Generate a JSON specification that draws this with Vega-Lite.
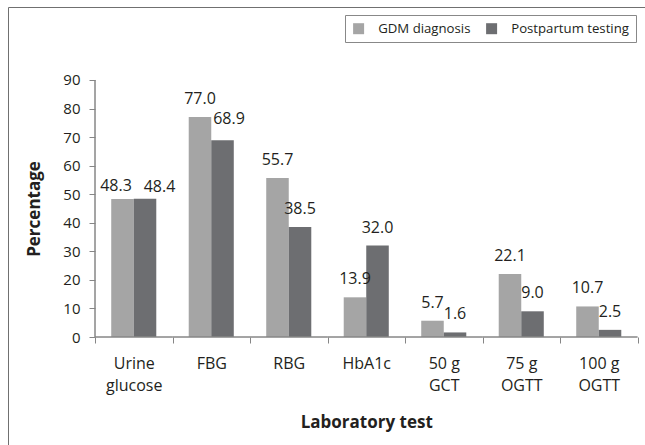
{
  "$schema": "https://vega.github.io/schema/vega-lite/v6.json",
  "width": 645,
  "height": 445,
  "autosize": {"type": "none"},
  "padding": {"left": 8, "top": 7, "right": 0, "bottom": 0},
  "background": "white",
  "config": {
    "font": "Open Sans",
    "view": {"stroke": "#707070", "strokeWidth": 1}
  },
  "data": {
    "values": [
      {"test": "Urine glucose", "series": "GDM diagnosis", "value": 48.3},
      {"test": "Urine glucose", "series": "Postpartum testing", "value": 48.4},
      {"test": "FBG", "series": "GDM diagnosis", "value": 77.0},
      {"test": "FBG", "series": "Postpartum testing", "value": 68.9},
      {"test": "RBG", "series": "GDM diagnosis", "value": 55.7},
      {"test": "RBG", "series": "Postpartum testing", "value": 38.5},
      {"test": "HbA1c", "series": "GDM diagnosis", "value": 13.9},
      {"test": "HbA1c", "series": "Postpartum testing", "value": 32.0},
      {"test": "50 g GCT", "series": "GDM diagnosis", "value": 5.7},
      {"test": "50 g GCT", "series": "Postpartum testing", "value": 1.6},
      {"test": "75 g OGTT", "series": "GDM diagnosis", "value": 22.1},
      {"test": "75 g OGTT", "series": "Postpartum testing", "value": 9.0},
      {"test": "100 g OGTT", "series": "GDM diagnosis", "value": 10.7},
      {"test": "100 g OGTT", "series": "Postpartum testing", "value": 2.5}
    ]
  },
  "layer": [
    {
      "mark": {"type": "bar"},
      "encoding": {
        "x": {
          "field": "test", "type": "nominal", "sort": null,
          "scale": {"paddingInner": 0, "paddingOuter": 0.6613, "align": 0.8488},
          "axis": {
            "title": "Laboratory test",
            "tickBand": "extent",
            "offset": -115,
            "domain": false,
            "grid": false,
            "tickSize": 6,
            "tickColor": "#868686",
            "labelAngle": 0,
            "labelFontSize": 16,
            "labelColor": "#231f20",
            "labelPadding": 12,
            "labelLineHeight": 22,
            "labelExpr": "indexof(datum.label, ' g ') >= 0 ? split(replace(datum.label, ' g ', ' g|'), '|') : split(datum.label, ' ')",
            "titleFontSize": 17,
            "titleFontWeight": "bold",
            "titleColor": "#231f20",
            "titleX": 358.25,
            "titleY": 90.5,
            "titleBaseline": "alphabetic"
          }
        },
        "xOffset": {
          "field": "series", "type": "nominal",
          "sort": ["GDM diagnosis", "Postpartum testing"],
          "scale": {"paddingInner": 0, "paddingOuter": 0.72}
        },
        "y": {
          "field": "value", "type": "quantitative",
          "scale": {"domain": [-40.27, 115.56], "nice": false, "zero": false},
          "axis": {
            "title": "Percentage",
            "values": [0, 10, 20, 30, 40, 50, 60, 70, 80, 90],
            "offset": -87,
            "domain": false,
            "grid": false,
            "tickSize": 6,
            "tickColor": "#868686",
            "labelFontSize": 15,
            "labelColor": "#231f20",
            "labelPadding": 9,
            "titleFontSize": 17,
            "titleFontWeight": "bold",
            "titleColor": "#231f20",
            "titleX": -56,
            "titleY": 201.5,
            "titleBaseline": "alphabetic",
            "titleAngle": -90
          }
        },
        "y2": {"datum": 0},
        "color": {
          "field": "series", "type": "nominal",
          "scale": {"domain": ["GDM diagnosis", "Postpartum testing"], "range": ["#a5a5a5", "#6d6e71"]},
          "legend": {
            "title": null,
            "orient": "none",
            "legendX": 337,
            "legendY": 8,
            "direction": "horizontal",
            "columns": 2,
            "symbolType": "square",
            "symbolSize": 121,
            "symbolStrokeWidth": 0,
            "labelFontSize": 13.2,
            "labelColor": "#231f20",
            "labelOffset": 13,
            "columnPadding": 14,
            "padding": 7,
            "strokeColor": "#888888",
            "fillColor": "white"
          }
        }
      }
    },
    {
      "mark": {"type": "rule", "color": "#868686", "strokeWidth": 1},
      "encoding": {
        "x": {"field": "test", "type": "nominal", "sort": null, "bandPosition": 0},
        "x2": {"field": "test", "bandPosition": 1},
        "y": {"datum": 0}
      }
    },
    {
      "transform": [{"filter": "datum.test == 'Urine glucose'"}],
      "mark": {"type": "rule", "color": "#868686", "strokeWidth": 1},
      "encoding": {
        "x": {"field": "test", "type": "nominal", "sort": null, "bandPosition": 0},
        "y": {"datum": 0},
        "y2": {"datum": 90}
      }
    },
    {
      "transform": [{"filter": "!(datum.test == 'Urine glucose' || (datum.test == 'FBG' && datum.series == 'Postpartum testing'))"}],
      "mark": {"type": "text", "fontSize": 16, "color": "#231f20", "baseline": "alphabetic", "dy": -13},
      "encoding": {
        "x": {"field": "test", "type": "nominal", "sort": null},
        "xOffset": {"field": "series", "type": "nominal", "sort": ["GDM diagnosis", "Postpartum testing"]},
        "y": {"field": "value", "type": "quantitative"},
        "text": {"field": "value", "type": "quantitative", "format": ".1f"}
      }
    },
    {
      "transform": [{"filter": "datum.test == 'Urine glucose' && datum.series == 'GDM diagnosis'"}],
      "mark": {"type": "text", "fontSize": 16, "color": "#231f20", "baseline": "alphabetic", "dy": -8, "dx": -6.5},
      "encoding": {
        "x": {"field": "test", "type": "nominal", "sort": null},
        "xOffset": {"field": "series", "type": "nominal", "sort": ["GDM diagnosis", "Postpartum testing"]},
        "y": {"field": "value", "type": "quantitative"},
        "text": {"field": "value", "type": "quantitative", "format": ".1f"}
      }
    },
    {
      "transform": [{"filter": "datum.test == 'Urine glucose' && datum.series == 'Postpartum testing'"}],
      "mark": {"type": "text", "fontSize": 16, "color": "#231f20", "baseline": "alphabetic", "dy": -7, "dx": 14.5},
      "encoding": {
        "x": {"field": "test", "type": "nominal", "sort": null},
        "xOffset": {"field": "series", "type": "nominal", "sort": ["GDM diagnosis", "Postpartum testing"]},
        "y": {"field": "value", "type": "quantitative"},
        "text": {"field": "value", "type": "quantitative", "format": ".1f"}
      }
    },
    {
      "transform": [{"filter": "datum.test == 'FBG' && datum.series == 'Postpartum testing'"}],
      "mark": {"type": "text", "fontSize": 16, "color": "#231f20", "baseline": "alphabetic", "dy": -16, "dx": 6.5},
      "encoding": {
        "x": {"field": "test", "type": "nominal", "sort": null},
        "xOffset": {"field": "series", "type": "nominal", "sort": ["GDM diagnosis", "Postpartum testing"]},
        "y": {"field": "value", "type": "quantitative"},
        "text": {"field": "value", "type": "quantitative", "format": ".1f"}
      }
    }
  ]
}
